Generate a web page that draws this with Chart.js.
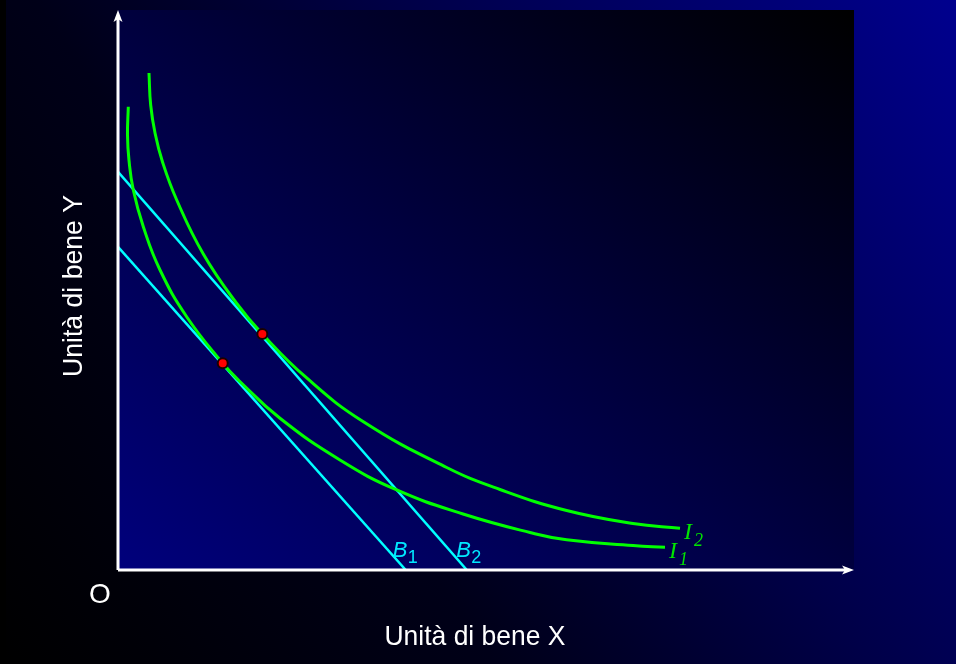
<!DOCTYPE html>
<html lang="it">
<head>
    <meta charset="UTF-8">
    <title>Curve di indifferenza e vincolo di bilancio</title>
    <script src="https://cdn.jsdelivr.net/npm/chart.js"></script>
    <style>
        html, body { margin: 0; padding: 0; background: #000; }
        canvas { display: block; }
    </style>
</head>
<body>
    <canvas id="chart" width="956" height="664"></canvas>
    <script>
        // curve di indifferenza (scala 0-100 su entrambi gli assi)
        const i1X = [1.40, 1.29, 1.49, 2.08, 3.44, 5.71, 9.33, 14.23, 16.35, 22.01, 30.16, 37.87, 46.88, 55.98, 60.96, 69.97, 74.32];
        const i1Y = [82.73, 77.68, 73.21, 67.86, 61.30, 53.57, 45.23, 36.91, 33.93, 27.09, 19.64, 14.29, 10.0, 6.70, 5.39, 4.38, 4.05];
        const i2X = [4.21, 4.44, 5.03, 6.05, 7.98, 11.59, 16.13, 19.61, 25.64, 33.29, 44.66, 51.90, 60.96, 69.97, 76.36];
        const i2Y = [88.75, 83.04, 78.04, 72.86, 66.07, 56.43, 47.59, 42.14, 34.29, 26.52, 18.30, 14.38, 10.62, 8.30, 7.45];

        // vincoli di bilancio (intercette)
        const b1X = [0, 39.1];
        const b1Y = [57.7, 0];
        const b2X = [0, 47.4];
        const b2Y = [71.1, 0];

        // punti di equilibrio
        const eqX = [14.23, 19.61];
        const eqY = [36.91, 42.14];

        const curveLabels = ['1', '2'];
        const budgetLabels = ['1', '2'];
        const xTitle = 'Unità di bene X';
        const yTitle = 'Unità di bene Y';
        const originLabel = 'O';

        const toPoints = (xs, ys) => xs.map((x, i) => ({ x: x, y: ys[i] }));

        const backgroundPlugin = {
            id: 'sfondo',
            beforeDraw(chart) {
                const ctx = chart.ctx;
                const a = chart.chartArea;
                ctx.save();
                const outer = ctx.createLinearGradient(0, 664, 956, 0);
                outer.addColorStop(0, '#000000');
                outer.addColorStop(0.35, '#000018');
                outer.addColorStop(1, '#00008e');
                ctx.fillStyle = outer;
                ctx.fillRect(0, 0, chart.width, chart.height);
                ctx.fillStyle = '#000000';
                ctx.fillRect(0, 0, 6, chart.height);

                // gradiente diagonale dell'area del grafico
                const w = a.right - a.left, h = a.bottom - a.top;
                const len = Math.sqrt(w * w + h * h);
                const ux = h / len, uy = -w / len;
                const d = (w * h + h * w) / len;
                const inner = ctx.createLinearGradient(a.left, a.bottom, a.left + ux * d, a.bottom + uy * d);
                inner.addColorStop(0, '#00007c');
                inner.addColorStop(1, '#000000');
                ctx.fillStyle = inner;
                ctx.fillRect(a.left, a.top, w, h);
                ctx.restore();
            }
        };

        const annotationsPlugin = {
            id: 'assi',
            afterDraw(chart) {
                const ctx = chart.ctx;
                const a = chart.chartArea;
                const xs = chart.scales.x, ys = chart.scales.y;
                ctx.save();

                // assi con frecce
                ctx.strokeStyle = '#ffffff';
                ctx.fillStyle = '#ffffff';
                ctx.lineWidth = 3;
                ctx.beginPath();
                ctx.moveTo(a.left, a.bottom);
                ctx.lineTo(a.left, a.top + 8);
                ctx.moveTo(a.left, a.bottom);
                ctx.lineTo(a.right - 8, a.bottom);
                ctx.stroke();
                ctx.beginPath();
                ctx.moveTo(a.left, a.top);
                ctx.lineTo(a.left - 4.5, a.top + 12);
                ctx.lineTo(a.left, a.top + 9);
                ctx.lineTo(a.left + 4.5, a.top + 12);
                ctx.closePath();
                ctx.fill();
                ctx.beginPath();
                ctx.moveTo(a.right, a.bottom);
                ctx.lineTo(a.right - 12, a.bottom - 4.5);
                ctx.lineTo(a.right - 9, a.bottom);
                ctx.lineTo(a.right - 12, a.bottom + 4.5);
                ctx.closePath();
                ctx.fill();

                // titoli degli assi
                ctx.font = '28px "Liberation Sans", Arial, sans-serif';
                ctx.textAlign = 'center';
                ctx.textBaseline = 'alphabetic';
                ctx.fillText(xTitle, 475, 645, 181);
                ctx.fillText(originLabel, 100, 603);
                ctx.save();
                ctx.translate(82, 286);
                ctx.rotate(-Math.PI / 2);
                ctx.fillText(yTitle, 0, 0, 182);
                ctx.restore();

                // etichette delle curve I1, I2
                ctx.textAlign = 'left';
                ctx.fillStyle = '#00e400';
                const ends = [[i1X, i1Y], [i2X, i2Y]];
                ends.forEach((c, i) => {
                    const px = xs.getPixelForValue(c[0][c[0].length - 1]);
                    const py = ys.getPixelForValue(c[1][c[1].length - 1]);
                    ctx.font = 'italic 24px "Liberation Serif", "Times New Roman", serif';
                    ctx.fillText('I', px + 4, py + 11);
                    ctx.font = 'italic 18px "Liberation Serif", "Times New Roman", serif';
                    ctx.fillText(curveLabels[i], px + 14, py + 18);
                });

                // etichette dei vincoli B1, B2
                ctx.fillStyle = '#00e8ff';
                const ints = [b1X[1], b2X[1]];
                const offs = [-13, -10.5];
                ints.forEach((v, i) => {
                    const px = xs.getPixelForValue(v);
                    const py = ys.getPixelForValue(0);
                    ctx.font = 'italic 22px "Liberation Sans", Arial, sans-serif';
                    ctx.fillText('B', px + offs[i], py - 13);
                    ctx.font = '18px "Liberation Sans", Arial, sans-serif';
                    ctx.fillText(budgetLabels[i], px + offs[i] + 15, py - 7);
                });
                ctx.restore();
            }
        };

        new Chart(document.getElementById('chart'), {
            type: 'scatter',
            data: {
                datasets: [
                    { label: 'B1', data: toPoints(b1X, b1Y), showLine: true, borderColor: '#00ffff', borderWidth: 2.5, pointRadius: 0, order: 4 },
                    { label: 'B2', data: toPoints(b2X, b2Y), showLine: true, borderColor: '#00ffff', borderWidth: 2.5, pointRadius: 0, order: 3 },
                    { label: 'I1', data: toPoints(i1X, i1Y), showLine: true, borderColor: '#00ff00', borderWidth: 3, pointRadius: 0, tension: 0.45, order: 2 },
                    { label: 'I2', data: toPoints(i2X, i2Y), showLine: true, borderColor: '#00ff00', borderWidth: 3, pointRadius: 0, tension: 0.45, order: 1 },
                    { label: 'Equilibrio', data: toPoints(eqX, eqY), showLine: false, pointRadius: 5, pointBackgroundColor: '#ff0000', pointBorderColor: '#1a0000', pointBorderWidth: 2, order: 0 }
                ]
            },
            options: {
                responsive: false,
                animation: false,
                devicePixelRatio: 1,
                layout: { padding: { left: 118, top: 10, right: 102, bottom: 94 } },
                plugins: { legend: { display: false }, tooltip: { enabled: false } },
                scales: {
                    x: { type: 'linear', min: 0, max: 100, display: false },
                    y: { type: 'linear', min: 0, max: 100, display: false }
                }
            },
            plugins: [backgroundPlugin, annotationsPlugin]
        });
    </script>
</body>
</html>
